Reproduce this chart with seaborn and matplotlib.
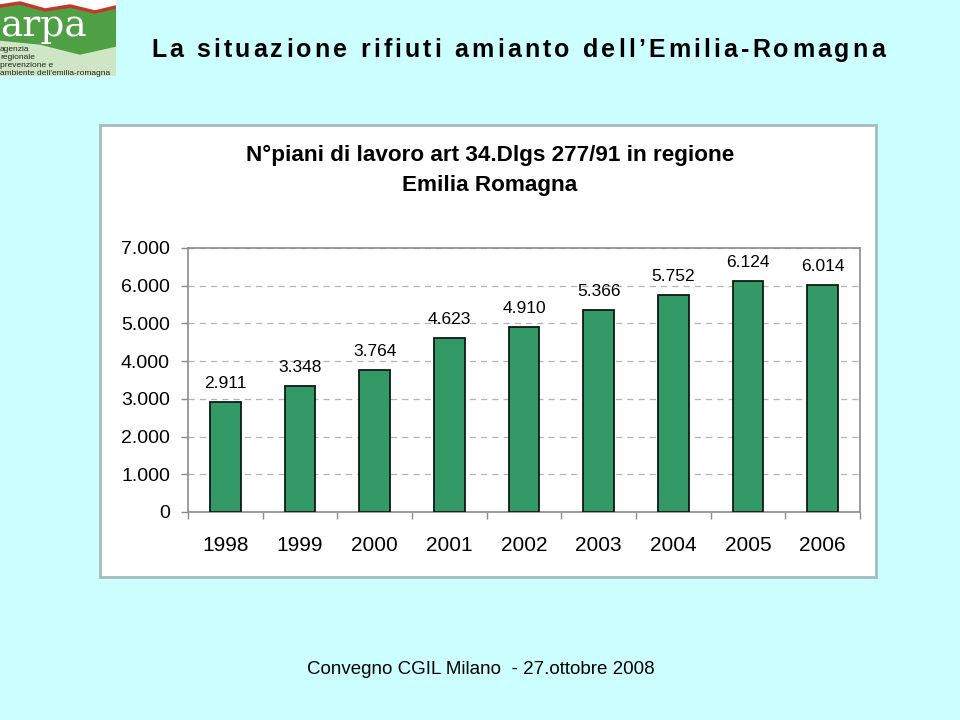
import matplotlib

matplotlib.use("Agg")
import matplotlib.pyplot as plt
import pandas as pd
import seaborn as sns
from matplotlib.patches import Polygon, Rectangle
from matplotlib.ticker import FixedLocator, FuncFormatter


years = ["1998", "1999", "2000", "2001", "2002", "2003", "2004", "2005", "2006"]
piani = [2911, 3348, 3764, 4623, 4910, 5366, 5752, 6124, 6014]
y_ticks = [0, 1000, 2000, 3000, 4000, 5000, 6000, 7000]

page_title = "La situazione rifiuti amianto dell\u2019Emilia-Romagna"
chart_title_1 = "N\u00b0piani di lavoro art 34.Dlgs 277/91 in regione"
chart_title_2 = "Emilia Romagna"
footer = "Convegno CGIL Milano  - 27.ottobre 2008"
logo_lines = ["agenzia", "regionale", "prevenzione e", "ambiente dell'emilia-romagna"]

PAGE_BG = "#ccffff"
BAR_GREEN = "#339966"


def it_thousands(v, _pos=None):
    v = int(round(v))
    if v == 0:
        return "0"
    return f"{v:,}".replace(",", ".")


def tracked_text(fig, text, x_left, x_right, y, **kw):
    # spread the characters so the line spans x_left..x_right (pixels)
    renderer = fig.canvas.get_renderer()

    def width(s):
        if not s:
            return 0.0
        t = fig.text(0, 0, s.replace(" ", "\u00a0"), **kw)
        w = t.get_window_extent(renderer).width
        t.remove()
        return w

    natural = width(text)
    track = (x_right - x_left - natural) / (len(text) - 1)
    for i, ch in enumerate(text):
        if ch == " ":
            continue
        x = x_left + width(text[:i]) + i * track
        fig.text(x / 960, 1 - y / 720, ch, ha="left", va="center", **kw)


def draw_logo(fig):
    ax = fig.add_axes([0.0, 1 - 76 / 720, 116 / 960, 76 / 720])
    ax.set_xlim(0, 116)
    ax.set_ylim(76, 0)
    ax.axis("off")
    ax.add_patch(Rectangle((0, 0), 116, 76, color="white", zorder=0))
    ax.add_patch(Polygon([(0, 40), (50, 42), (116, 40), (116, 76), (0, 76)],
                         closed=True, color="#cfe6c4", zorder=1))
    ax.add_patch(Polygon([(0, 6), (20, 3), (45, 10), (70, 6), (95, 12), (116, 7),
                          (116, 46), (80, 54), (40, 44), (0, 40)],
                         closed=True, color="#4fa045", zorder=1))
    ax.plot([0, 20, 45, 70, 95, 116], [6, 3, 10, 6, 12, 7], color="#c0392b", lw=2.5, zorder=2)
    ax.text(0, 36, "arpa", fontsize=27, color="white", family="DejaVu Serif",
            va="baseline", zorder=3)
    for i, line in enumerate(logo_lines):
        ax.text(0, 49.5 + i * 8, line, fontsize=6, color="#222222", va="center", zorder=3)


def main():
    sns.set_theme(style="white")
    plt.rcParams["font.family"] = ["Liberation Sans", "DejaVu Sans"]

    df = pd.DataFrame({"anno": years, "piani": piani})

    fig = plt.figure(figsize=(9.6, 7.2), dpi=100)
    fig.patch.set_facecolor(PAGE_BG)

    # white panel behind the chart
    fig.patches.append(Rectangle((100 / 960, 1 - 577 / 720), 776 / 960, 452 / 720,
                                 transform=fig.transFigure, facecolor="white",
                                 edgecolor="#a3bcbc", linewidth=2, zorder=-5))

    ax = fig.add_axes([188 / 960, 1 - 512 / 720, 672 / 960, 264 / 720])
    ax.set_zorder(2)
    sns.barplot(data=df, x="anno", y="piani", color=BAR_GREEN, saturation=1,
                width=0.41, edgecolor="#0d1a10", linewidth=1.3, ax=ax, zorder=3)

    ax.set_facecolor("white")
    ax.set_ylim(0, 7000)
    ax.set_xlim(-0.5, len(years) - 0.5)
    ax.yaxis.set_major_locator(FixedLocator(y_ticks))
    ax.yaxis.set_major_formatter(FuncFormatter(it_thousands))
    ax.set_xlabel("")
    ax.set_ylabel("")

    for spine in ax.spines.values():
        spine.set_visible(True)
        spine.set_color("#8c8c8c")
        spine.set_linewidth(1.2)

    ax.yaxis.grid(True, linestyle=(0, (5, 4)), color="#b5b5b5", linewidth=0.9, zorder=0)
    ax.xaxis.grid(False)
    ax.set_axisbelow(True)

    ax.tick_params(axis="y", which="major", left=True, length=5, width=1, color="#8c8c8c",
                   labelsize=14, pad=8, labelcolor="black")
    ax.set_xticks(range(len(years)))
    ax.set_xticklabels(years)
    ax.tick_params(axis="x", which="major", bottom=False, labelsize=15, pad=11,
                   labelcolor="black")
    # small boundary ticks between categories
    ax.set_xticks([i - 0.5 for i in range(len(years) + 1)], minor=True)
    ax.tick_params(axis="x", which="minor", bottom=True, length=5, width=1, color="#8c8c8c")

    for i, v in enumerate(piani):
        ax.annotate(it_thousands(v), (i, v), xytext=(0, 8), textcoords="offset points",
                    ha="center", va="bottom", fontsize=12.5, color="black")

    fig.text(490 / 960, 1 - 155 / 720, chart_title_1, ha="center", va="center",
             fontsize=16.2, fontweight="bold", color="black")
    fig.text(490 / 960, 1 - 186 / 720, chart_title_2, ha="center", va="center",
             fontsize=16.2, fontweight="bold", color="black")

    tracked_text(fig, page_title, 151, 885, 50, fontsize=18, fontweight="bold", color="black")
    fig.text(481 / 960, 1 - 669 / 720, footer, ha="center", va="center", fontsize=13.5,
             color="black")

    draw_logo(fig)

    fig.savefig("out.png", dpi=100, facecolor=fig.get_facecolor())
    plt.close(fig)


if __name__ == "__main__":
    main()
